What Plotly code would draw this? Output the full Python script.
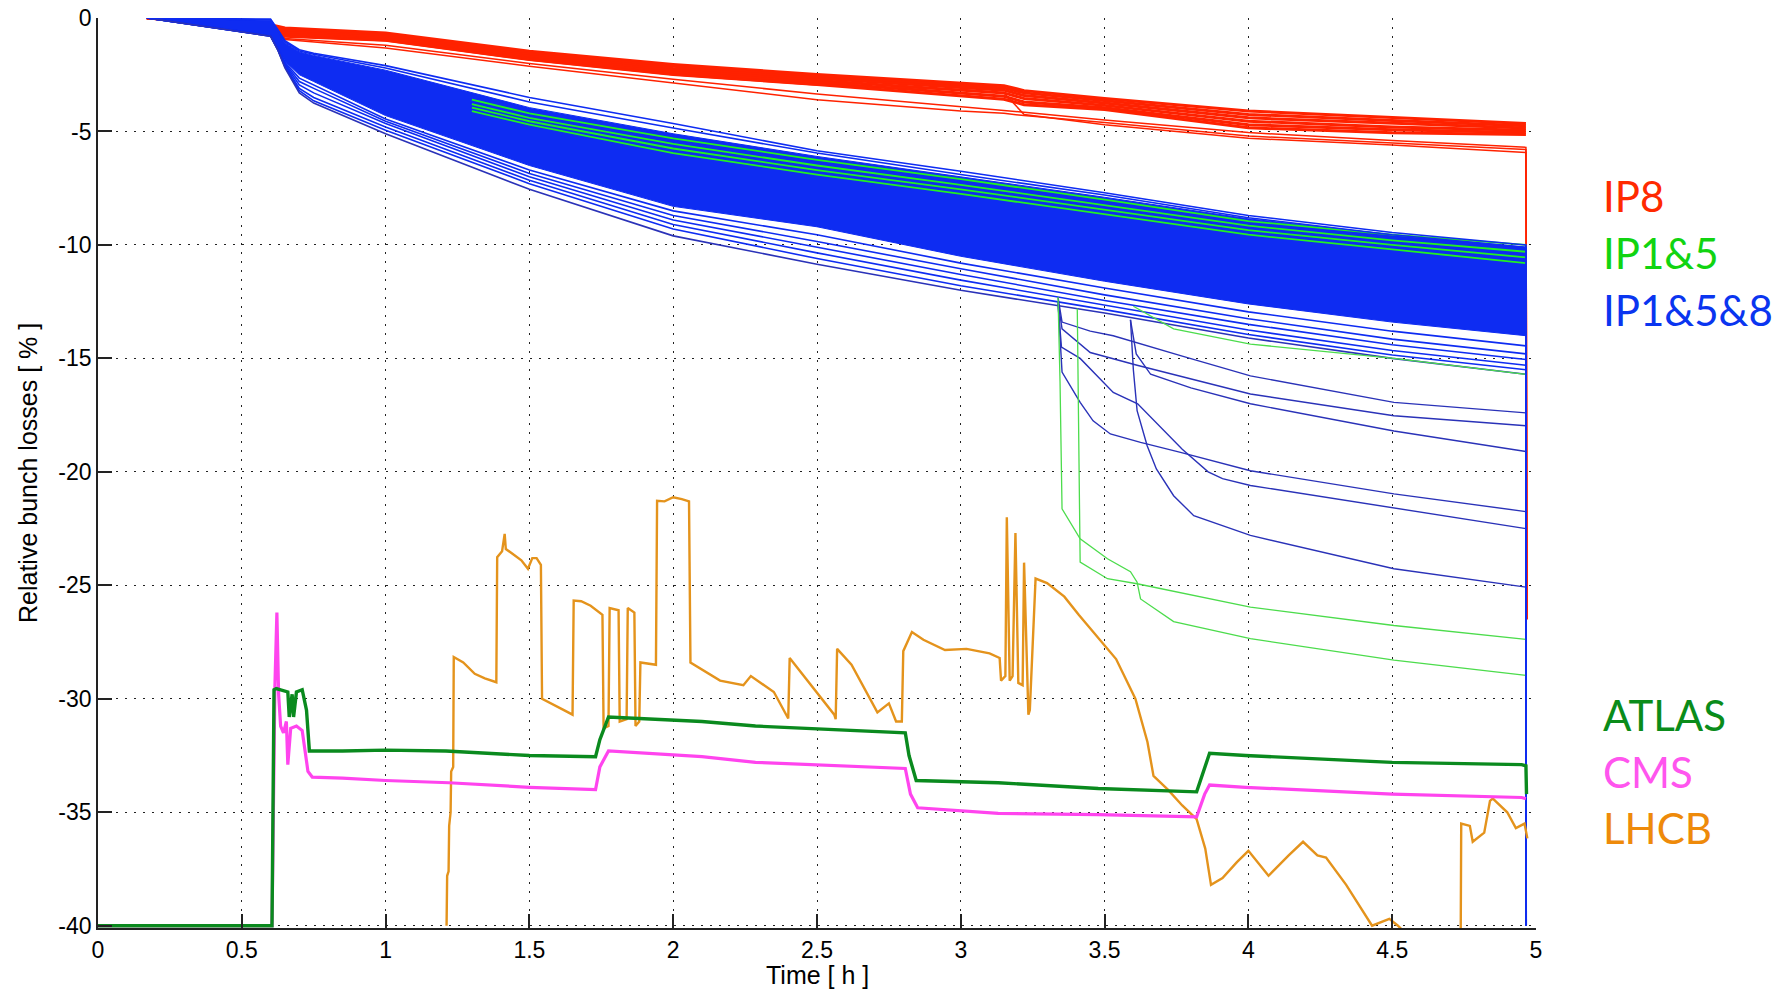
import plotly.graph_objects as go

# ---------------- axes / ticks ----------------
x_tick_vals = [0, 0.5, 1, 1.5, 2, 2.5, 3, 3.5, 4, 4.5, 5]
x_tick_text = ["0", "0.5", "1", "1.5", "2", "2.5", "3", "3.5", "4", "4.5", "5"]
y_tick_vals = [0, -5, -10, -15, -20, -25, -30, -35, -40]
y_tick_text = ["0", "-5", "-10", "-15", "-20", "-25", "-30", "-35", "-40"]

# ---------------- IP1&5&8 (blue) band ----------------
t_band = [0.17, 0.6, 0.625, 0.65, 0.7, 0.75, 1.0, 1.5, 2.0, 2.5, 3.0, 3.5, 4.0, 4.5, 4.965]
band_top = [0, -0.1, -0.6, -1.1, -1.5, -1.65, -2.3, -3.95, -5.1, -6.1, -7.0, -7.9, -8.85, -9.55, -10.1]
band_bottom = [0, -0.75, -1.3, -1.9, -2.5, -2.8, -4.3, -6.5, -8.3, -9.2, -10.5, -11.6, -12.6, -13.4, -14.0]

t_blue = [0.17, 0.6, 0.625, 0.65, 0.7, 0.75, 1.0, 1.5, 2.0, 2.5, 3.0, 3.5, 4.0, 4.5, 4.965, 4.966]
blue_upper = {
    "U1": [0, -0.05, -0.5, -1.0, -1.4, -1.55, -2.1, -3.5, -4.65, -5.85, -6.75, -7.7, -8.7, -9.45, -10.0, -40],
    "U2": [0, -0.08, -0.55, -1.05, -1.45, -1.6, -2.2, -3.7, -4.85, -5.95, -6.9, -7.8, -8.8, -9.55, -10.1, -40],
}
blue_lower = {
    "B6": [0, -0.77, -1.32, -1.95, -2.65, -2.95, -4.45, -6.7, -8.5, -9.55, -10.8, -11.9, -12.95, -13.8, -14.45, -40],
    "B5": [0, -0.78, -1.34, -2.0, -2.8, -3.1, -4.55, -6.85, -8.7, -9.85, -11.05, -12.2, -13.25, -14.15, -14.8, -40],
    "B4": [0, -0.78, -1.36, -2.05, -2.95, -3.3, -4.65, -7.0, -8.9, -10.1, -11.3, -12.45, -13.5, -14.4, -15.05, -40],
    "B3": [0, -0.8, -1.38, -2.1, -3.1, -3.5, -4.8, -7.15, -9.1, -10.35, -11.55, -12.65, -13.75, -14.65, -15.3, -40],
    "B2": [0, -0.8, -1.4, -2.15, -3.2, -3.65, -4.95, -7.3, -9.3, -10.6, -11.8, -12.85, -13.95, -14.85, -15.5, -40],
    "B1": [0, -0.8, -1.4, -2.2, -3.3, -3.75, -5.1, -7.55, -9.6, -10.85, -12.0, -13.0, -14.1, -15.0, -15.7, -40],
}

# diverging IP1&5&8 bunches
div_blue = [
    ([3.338, 3.352, 3.45, 3.53, 3.77, 4.007, 4.506, 4.965],
     [-12.3, -13.4, -13.8, -14.0, -14.9, -15.77, -16.94, -17.4]),
    ([3.338, 3.352, 3.45, 3.613, 4.007, 4.506, 4.965],
     [-12.5, -13.7, -14.74, -15.3, -16.57, -17.53, -17.97]),
    ([3.59, 3.61, 3.66, 3.8, 4.007, 4.506, 4.965],
     [-13.3, -14.8, -15.7, -16.3, -17.0, -18.2, -19.1]),
    ([3.338, 3.345, 3.352, 3.415, 3.46, 3.52, 3.625, 3.764, 4.007, 4.506, 4.965],
     [-12.5, -14.0, -15.6, -16.94, -17.75, -18.33, -18.7, -19.14, -19.95, -20.97, -21.75]),
    ([3.338, 3.35, 3.415, 3.53, 3.615, 3.77, 3.86, 3.91, 4.007, 4.506, 4.965],
     [-12.6, -14.5, -15.0, -16.5, -17.0, -19.0, -20.0, -20.3, -20.6, -21.6, -22.5]),
    ([3.59, 3.60, 3.613, 3.648, 3.68, 3.74, 3.81, 4.007, 4.506, 4.965],
     [-13.3, -15.5, -17.3, -18.85, -19.87, -21.05, -21.93, -22.8, -24.27, -25.08]),
]

# ---------------- IP1&5 (green) ----------------
t_green = [1.3, 1.5, 2.0, 2.5, 3.0, 3.5, 4.0, 4.5, 4.965]
green_lines = {
    "Ga": [-3.6, -4.2, -5.3, -6.25, -7.1, -8.0, -8.95, -9.55, -10.0],
    "Gb": [-3.8, -4.4, -5.55, -6.5, -7.35, -8.25, -9.15, -9.8, -10.3],
    "Gc": [-3.95, -4.55, -5.75, -6.7, -7.55, -8.45, -9.35, -10.0, -10.55],
    "Gd": [-4.1, -4.7, -5.95, -6.9, -7.75, -8.65, -9.55, -10.2, -10.8],
}
div_green = [
    ([3.338, 3.345, 3.352, 3.415, 3.51, 3.59, 3.613, 3.625, 3.74, 4.007, 4.506, 4.965],
     [-12.3, -16.0, -21.63, -22.95, -23.83, -24.4, -24.86, -25.6, -26.6, -27.35, -28.3, -28.97]),
    ([3.405, 3.41, 3.415, 3.51, 3.613, 4.007, 4.506, 4.965],
     [-12.8, -18.0, -23.98, -24.71, -24.93, -25.96, -26.77, -27.38]),
    ([3.6, 3.74, 4.007, 4.506, 4.965],
     [-12.7, -13.7, -14.37, -15.0, -15.7]),
]

# ---------------- IP8 (red) ----------------
t_red = [0.17, 0.6, 0.65, 1.0, 1.5, 2.0, 2.5, 3.0, 3.15, 3.22, 3.5, 4.0, 4.5, 4.965]
red_band = {
    "R1": [0, -0.3, -0.44, -0.66, -1.47, -2.05, -2.49, -2.86, -2.98, -3.2, -3.55, -4.1, -4.4, -4.65],
    "R2": [0, -0.32, -0.5, -0.72, -1.55, -2.13, -2.57, -2.95, -3.08, -3.3, -3.65, -4.25, -4.52, -4.75],
    "R3": [0, -0.34, -0.57, -0.78, -1.62, -2.22, -2.66, -3.05, -3.18, -3.42, -3.75, -4.4, -4.65, -4.85],
    "R4": [0, -0.36, -0.64, -0.85, -1.7, -2.31, -2.75, -3.18, -3.3, -3.55, -3.85, -4.55, -4.8, -4.95],
    "R5": [0, -0.38, -0.72, -0.92, -1.77, -2.4, -2.84, -3.32, -3.45, -3.7, -3.95, -4.7, -4.92, -5.05],
    "R6": [0, -0.4, -0.8, -0.98, -1.83, -2.49, -2.93, -3.45, -3.58, -3.82, -4.03, -4.84, -5.06, -5.13],
}
t_red_low = [0.17, 0.6, 0.65, 1.0, 1.5, 2.0, 2.5, 3.0, 3.15, 3.22, 3.5, 4.0, 4.5, 4.965, 4.969]
red_low = {
    "L2": [0, -0.42, -0.9, -1.2, -2.0, -2.7, -3.35, -3.9, -4.05, -4.15, -4.5, -5.05, -5.4, -5.7, -26.5],
    "L1": [0, -0.42, -0.95, -1.32, -2.13, -2.85, -3.6, -4.1, -4.2, -4.3, -4.6, -5.2, -5.5, -5.8, -26.5],
    "L3": [0, -0.4, -0.8, -1.0, -1.85, -2.5, -2.95, -3.15, -3.3, -4.25, -4.7, -5.3, -5.6, -5.93, -26.5],
}

# ---------------- ATLAS / CMS / LHCB ----------------
atlas_t = [0, 0.605, 0.612, 0.62, 0.66, 0.665, 0.675, 0.68, 0.69, 0.71, 0.725, 0.735, 0.85, 1.0, 1.21,
           1.5, 1.73, 1.745, 1.775, 2.1, 2.286, 2.807, 2.82, 2.845, 3.13, 3.478, 3.82, 3.848, 3.865,
           3.99, 4.5, 4.95, 4.965, 4.967]
atlas_v = [-40, -40, -29.6, -29.55, -29.7, -30.8, -29.8, -30.8, -29.7, -29.6, -30.5, -32.3, -32.3, -32.26, -32.3,
           -32.5, -32.55, -31.8, -30.8, -31.0, -31.2, -31.5, -32.5, -33.6, -33.7, -33.95, -34.1, -33.0, -32.4,
           -32.5, -32.8, -32.9, -32.95, -34.2]

cms_t = [0, 0.605, 0.615, 0.622, 0.628, 0.635, 0.645, 0.655, 0.66, 0.67, 0.69, 0.71, 0.73, 0.745, 0.85,
         1.0, 1.22, 1.5, 1.73, 1.745, 1.775, 2.1, 2.286, 2.807, 2.825, 2.85, 3.13, 3.478, 3.82, 3.848,
         3.865, 3.99, 4.5, 4.95, 4.965]
cms_v = [-40, -40, -29.5, -26.2, -29.8, -31.2, -31.5, -31.0, -32.9, -31.3, -31.2, -31.4, -33.2, -33.45, -33.5,
         -33.6, -33.7, -33.9, -34.0, -33.0, -32.3, -32.55, -32.8, -33.07, -34.2, -34.8, -35.05, -35.1, -35.2, -34.2,
         -33.8, -33.9, -34.2, -34.35, -34.4]

lhcb_t = [1.212, 1.214, 1.219, 1.221, 1.226, 1.228, 1.235, 1.237, 1.27, 1.31, 1.345, 1.385, 1.388, 1.405,
          1.414, 1.418, 1.44, 1.472, 1.495, 1.51, 1.525, 1.54, 1.544, 1.587, 1.62, 1.65, 1.654, 1.68,
          1.713, 1.754, 1.758, 1.775, 1.779, 1.81, 1.814, 1.838, 1.842, 1.865, 1.869, 1.882, 1.886, 1.94,
          1.944, 1.97, 2.0, 2.03, 2.047, 2.055, 2.06, 2.105, 2.163, 2.244, 2.27, 2.35, 2.40, 2.405, 2.46,
          2.56, 2.565, 2.57, 2.62, 2.71, 2.75, 2.775, 2.795, 2.80, 2.83, 2.87, 2.945, 3.02, 3.1, 3.135,
          3.14, 3.155, 3.16, 3.17, 3.18, 3.19, 3.2, 3.215, 3.22, 3.235, 3.24, 3.26, 3.3, 3.36, 3.41,
          3.47, 3.54, 3.607, 3.649, 3.67, 3.72, 3.77, 3.82, 3.85, 3.87, 3.91, 3.96, 4.0, 4.07, 4.14,
          4.19, 4.24, 4.27, 4.34, 4.4, 4.43, 4.49, 4.52, 4.6, 4.738, 4.74, 4.77, 4.78, 4.82, 4.84,
          4.85, 4.9, 4.93, 4.96, 4.97]
lhcb_v = [-40, -37.8, -37.6, -35.6, -35.0, -33.2, -33.0, -28.16, -28.4, -28.9, -29.1, -29.27, -23.76, -23.5,
          -22.73, -23.4, -23.6, -23.9, -24.27, -23.8, -23.8, -24.1, -30.0, -30.3, -30.5, -30.7, -25.67, -25.7,
          -25.9, -26.3, -31.3, -31.2, -26.0, -26.1, -31.0, -30.9, -26.0, -26.2, -31.2, -31.0, -28.4, -28.5,
          -21.27, -21.3, -21.12, -21.2, -21.27, -21.3, -28.4, -28.75, -29.2, -29.4, -29.0, -29.7, -30.87, -28.2, -29.1,
          -30.7, -30.9, -27.8, -28.5, -30.6, -30.2, -31.0, -31.0, -27.9, -27.06, -27.4, -27.85, -27.8, -28.0, -28.2,
          -29.2, -29.0, -22.0, -29.2, -29.0, -22.7, -29.3, -29.4, -24.0, -30.7, -30.5, -24.7, -24.9, -25.5, -26.3,
          -27.2, -28.25, -30.0, -31.9, -33.4, -34.0, -34.7, -35.3, -36.6, -38.2, -37.9, -37.2, -36.7, -37.8, -36.9,
          -36.3, -36.9, -37.0, -38.2, -39.4, -40.0, -39.7, -40.0, -41.0, -41.0, -35.5, -35.6, -36.3, -35.9, -34.5,
          -34.4, -35.0, -35.7, -35.5, -36.15]

# ---------------- side labels ----------------
label_text = ["IP8", "IP1&5", "IP1&5&8", "ATLAS", "CMS", "LHCB"]
label_y = [-7.86, -10.37, -12.88, -30.73, -33.22, -35.71]
label_color = ["#FF2A00", "#11D411", "#0A35F0", "#0A8C1A", "#FF55EE", "#EE8A0A"]

RED = "#FF2200"
BLUE = "#0E2CF2"
NAVY = "#2A32B8"
GREEN = "#22F022"
LGREEN = "#4CDC4C"

fig = go.Figure()

# red band
for name, vals in red_band.items():
    fig.add_trace(go.Scatter(x=t_red, y=vals, mode="lines", line=dict(color=RED, width=3.0),
                             hoverinfo="skip", showlegend=False))
for name, vals in red_low.items():
    fig.add_trace(go.Scatter(x=t_red_low, y=vals, mode="lines", line=dict(color=RED, width=1.5),
                             hoverinfo="skip", showlegend=False))

# blue filled band
fig.add_trace(go.Scatter(x=t_band + t_band[::-1], y=band_top + band_bottom[::-1], mode="lines",
                         fill="toself", fillcolor=BLUE, line=dict(color=BLUE, width=1),
                         hoverinfo="skip", showlegend=False))
for name, vals in blue_lower.items():
    fig.add_trace(go.Scatter(x=t_blue, y=vals, mode="lines",
                             line=dict(color=NAVY if name == "B1" else BLUE, width=1.6),
                             hoverinfo="skip", showlegend=False))
for tt, vv in div_blue:
    fig.add_trace(go.Scatter(x=tt, y=vv, mode="lines", line=dict(color=NAVY, width=1.4),
                             hoverinfo="skip", showlegend=False))
for tt, vv in div_green:
    fig.add_trace(go.Scatter(x=tt, y=vv, mode="lines", line=dict(color=LGREEN, width=1.3),
                             hoverinfo="skip", showlegend=False))
for name, vals in green_lines.items():
    fig.add_trace(go.Scatter(x=t_green, y=vals, mode="lines", line=dict(color=GREEN, width=1.8),
                             hoverinfo="skip", showlegend=False))
for name, vals in blue_upper.items():
    fig.add_trace(go.Scatter(x=t_blue, y=vals, mode="lines", line=dict(color=BLUE, width=1.6),
                             hoverinfo="skip", showlegend=False))

# experiments
fig.add_trace(go.Scatter(x=lhcb_t, y=lhcb_v, mode="lines", line=dict(color="#E4931C", width=2.4),
                         hoverinfo="skip", showlegend=False))
fig.add_trace(go.Scatter(x=cms_t, y=cms_v, mode="lines", line=dict(color="#FF44EE", width=3.2),
                         hoverinfo="skip", showlegend=False))
fig.add_trace(go.Scatter(x=atlas_t, y=atlas_v, mode="lines", line=dict(color="#0A8A1E", width=3.4),
                         hoverinfo="skip", showlegend=False))

for txt, yy, col in zip(label_text, label_y, label_color):
    fig.add_annotation(text=txt, xref="paper", yref="y", x=1.0455, y=yy, xanchor="left",
                       yanchor="middle", showarrow=False,
                       font=dict(family="Lato, Open Sans, sans-serif", size=42, color=col))

fig.add_annotation(text="Time [ h ]", xref="paper", yref="paper", x=0.5, y=0, yshift=-47,
                   xanchor="center", yanchor="middle", showarrow=False,
                   font=dict(family="Liberation Sans, Arial, sans-serif", size=25, color="black"))
fig.add_annotation(text="Relative bunch losses [ % ]", xref="paper", yref="paper", x=0, xshift=-70,
                   y=0.5, xanchor="center", yanchor="middle", textangle=-90, showarrow=False,
                   font=dict(family="Liberation Sans, Arial, sans-serif", size=25, color="black"))

axis_common = dict(showgrid=True, gridcolor="#222222", griddash="2px,7px", gridwidth=1.3,
                   zeroline=False, showline=True, linecolor="#222222", linewidth=1.8,
                   ticks="inside", ticklen=14, tickwidth=1.5, tickcolor="#222222", automargin=False,
                   tickfont=dict(family="Liberation Sans, Arial, sans-serif", size=23, color="black"))

fig.update_xaxes(range=[0, 5], tickvals=x_tick_vals, ticktext=x_tick_text, **axis_common)
fig.update_yaxes(range=[-40.1, 0], tickvals=y_tick_vals, ticktext=y_tick_text, **axis_common)

fig.update_layout(width=1785, height=992, margin=dict(l=98, r=249, t=18, b=64),
                  paper_bgcolor="white", plot_bgcolor="white", showlegend=False)

fig.write_html("out.html")
